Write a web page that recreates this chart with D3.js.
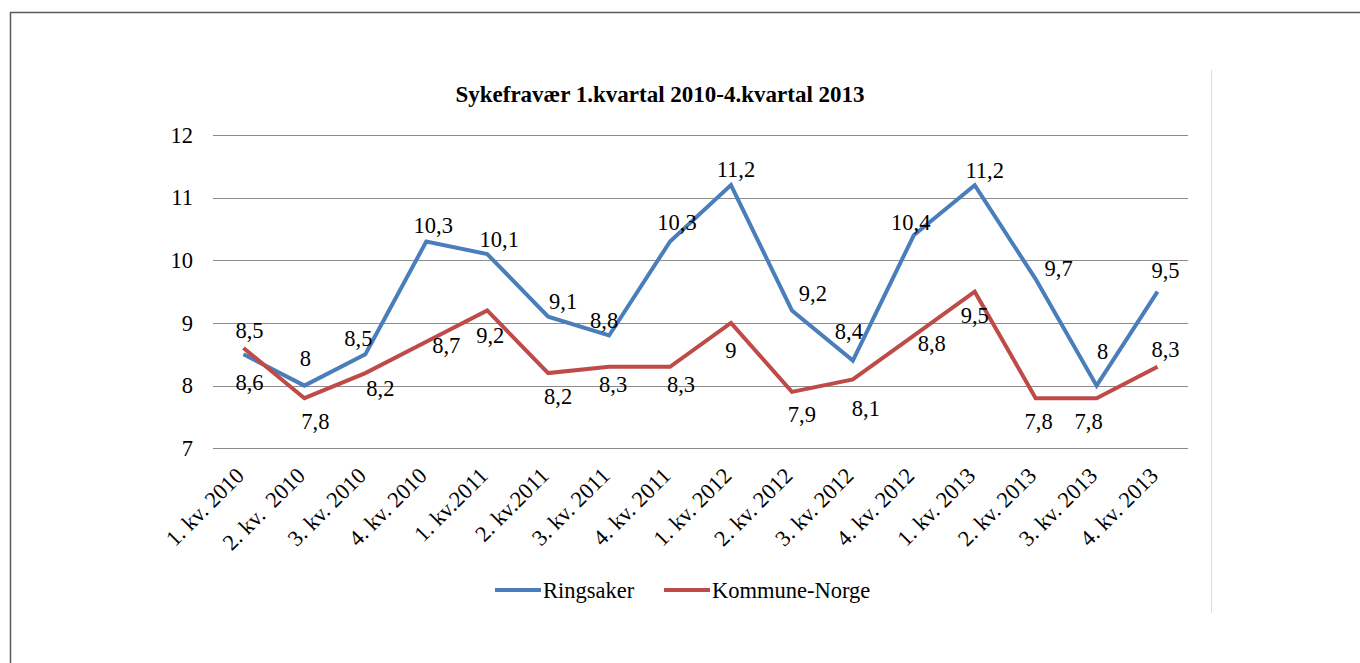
<!DOCTYPE html>
<html>
<head>
  <meta charset="UTF-8" />
  <title>Sykefravær</title>
  <script src="https://cdn.jsdelivr.net/npm/d3@7/dist/d3.min.js"></script>
  <style>
    body { margin: 0; background: #fff; }
    svg text { font-family: "Liberation Serif", "Times New Roman", serif; fill: #000; }
  </style>
</head>
<body>
  <svg width="1360" height="663"></svg>
  <script>
    // data
    var quarters = ["1. kv. 2010", "2. kv.  2010", "3. kv. 2010", "4. kv. 2010",
      "1. kv.2011", "2. kv.2011", "3. kv. 2011", "4. kv. 2011",
      "1. kv. 2012", "2. kv. 2012", "3. kv. 2012", "4. kv. 2012",
      "1. kv. 2013", "2. kv. 2013", "3. kv. 2013", "4. kv. 2013"];
    var ringsaker = [8.5, 8, 8.5, 10.3, 10.1, 9.1, 8.8, 10.3, 11.2, 9.2, 8.4, 10.4, 11.2, 9.7, 8, 9.5];
    var kommuneNorge = [8.6, 7.8, 8.2, 8.7, 9.2, 8.2, 8.3, 8.3, 9, 7.9, 8.1, 8.8, 9.5, 7.8, 7.8, 8.3];
    var yTicks = [7, 8, 9, 10, 11, 12];

    // label nudges (px) so labels sit where excel put them
    var blueNudge = [[6, -24], [1, -27], [-7, -16], [7, -16], [12, -15], [15, -15], [-5, -15], [7, -19],
      [5, -16], [21, -17], [-4, -29], [-3, -13], [10, -15], [23, -11], [6, -34], [8, -21]];
    var redNudge = [[6, 34], [11, 23], [15, 15], [20, 4], [3, 25], [10, 23], [4, 18], [11, 18],
      [0, 27], [10, 22], [13, 29], [18, 8], [0, 24], [3, 23], [-8, 23], [8, -17]];

    var fs = 22.5;
    var svg = d3.select("svg");

    // outer frame
    svg.append("rect")
      .attr("x", 10.5).attr("y", 12.5)
      .attr("width", 1400).attr("height", 700)
      .attr("fill", "none")
      .attr("stroke", "#5a5a5a")
      .attr("stroke-width", 1.5);

    // faint divider on the right
    svg.append("line")
      .attr("x1", 1211.5).attr("x2", 1211.5)
      .attr("y1", 70).attr("y2", 613)
      .attr("stroke", "#dcdcdc");

    var x = d3.scaleBand().domain(d3.range(quarters.length)).range([213, 1188]);
    var y = d3.scaleLinear().domain([7, 12]).range([448.3, 135]);

    // gridlines
    svg.append("g")
      .selectAll("line")
      .data(yTicks)
      .enter()
      .append("line")
      .attr("x1", 213).attr("x2", 1188)
      .attr("y1", function (d) { return Math.round(y(d)) + 0.5; })
      .attr("y2", function (d) { return Math.round(y(d)) + 0.5; })
      .attr("stroke", "#8c8c8c")
      .attr("stroke-width", 1);

    // y labels
    svg.append("g")
      .selectAll("text")
      .data(yTicks)
      .enter()
      .append("text")
      .attr("x", 193)
      .attr("y", function (d) { return y(d); })
      .attr("dy", "0.34em")
      .attr("text-anchor", "end")
      .attr("font-size", fs)
      .text(function (d) { return d; });

    // x labels
    svg.append("g")
      .selectAll("text")
      .data(quarters)
      .enter()
      .append("text")
      .attr("transform", function (d, i) {
        var cx = x(i) + x.bandwidth() / 2;
        return "translate(" + (cx + 2) + "," + 477 + ") rotate(-45)";
      })
      .attr("text-anchor", "end")
      .attr("font-size", fs)
      .style("white-space", "pre")
      .text(function (d) { return d; });

    // title
    svg.append("text")
      .attr("x", 660)
      .attr("y", 102)
      .attr("text-anchor", "middle")
      .attr("font-size", 23)
      .attr("font-weight", "bold")
      .text("Sykefravær 1.kvartal 2010-4.kvartal 2013");

    var line = d3.line()
      .x(function (d, i) { return x(i) + x.bandwidth() / 2; })
      .y(function (d) { return y(d); });

    var series = [
      { name: "Ringsaker", values: ringsaker, color: "#4a7ebb", nudge: blueNudge },
      { name: "Kommune-Norge", values: kommuneNorge, color: "#be4b48", nudge: redNudge }
    ];

    series.forEach(function (s) {
      svg.append("path")
        .datum(s.values)
        .attr("d", line)
        .attr("fill", "none")
        .attr("stroke", s.color)
        .attr("stroke-width", 4)
        .attr("stroke-linejoin", "miter");
    });

    series.forEach(function (s) {
      svg.append("g")
        .selectAll("text")
        .data(s.values)
        .enter()
        .append("text")
        .attr("x", function (d, i) { return x(i) + x.bandwidth() / 2 + s.nudge[i][0]; })
        .attr("y", function (d, i) { return y(d) + s.nudge[i][1]; })
        .attr("dy", "0.34em")
        .attr("text-anchor", "middle")
        .attr("font-size", fs)
        .text(function (d) { return String(d).replace(".", ","); });
    });

    // legend
    var legend = svg.append("g")
      .selectAll("g")
      .data(series)
      .enter()
      .append("g")
      .attr("transform", function (d, i) { return "translate(" + [495, 664][i] + ",590)"; });
    legend.append("line")
      .attr("x1", 0).attr("x2", 46)
      .attr("stroke", function (d) { return d.color; })
      .attr("stroke-width", 4);
    legend.append("text")
      .attr("x", 48)
      .attr("dy", "0.34em")
      .attr("font-size", fs)
      .text(function (d) { return d.name; });
  </script>
</body>
</html>
